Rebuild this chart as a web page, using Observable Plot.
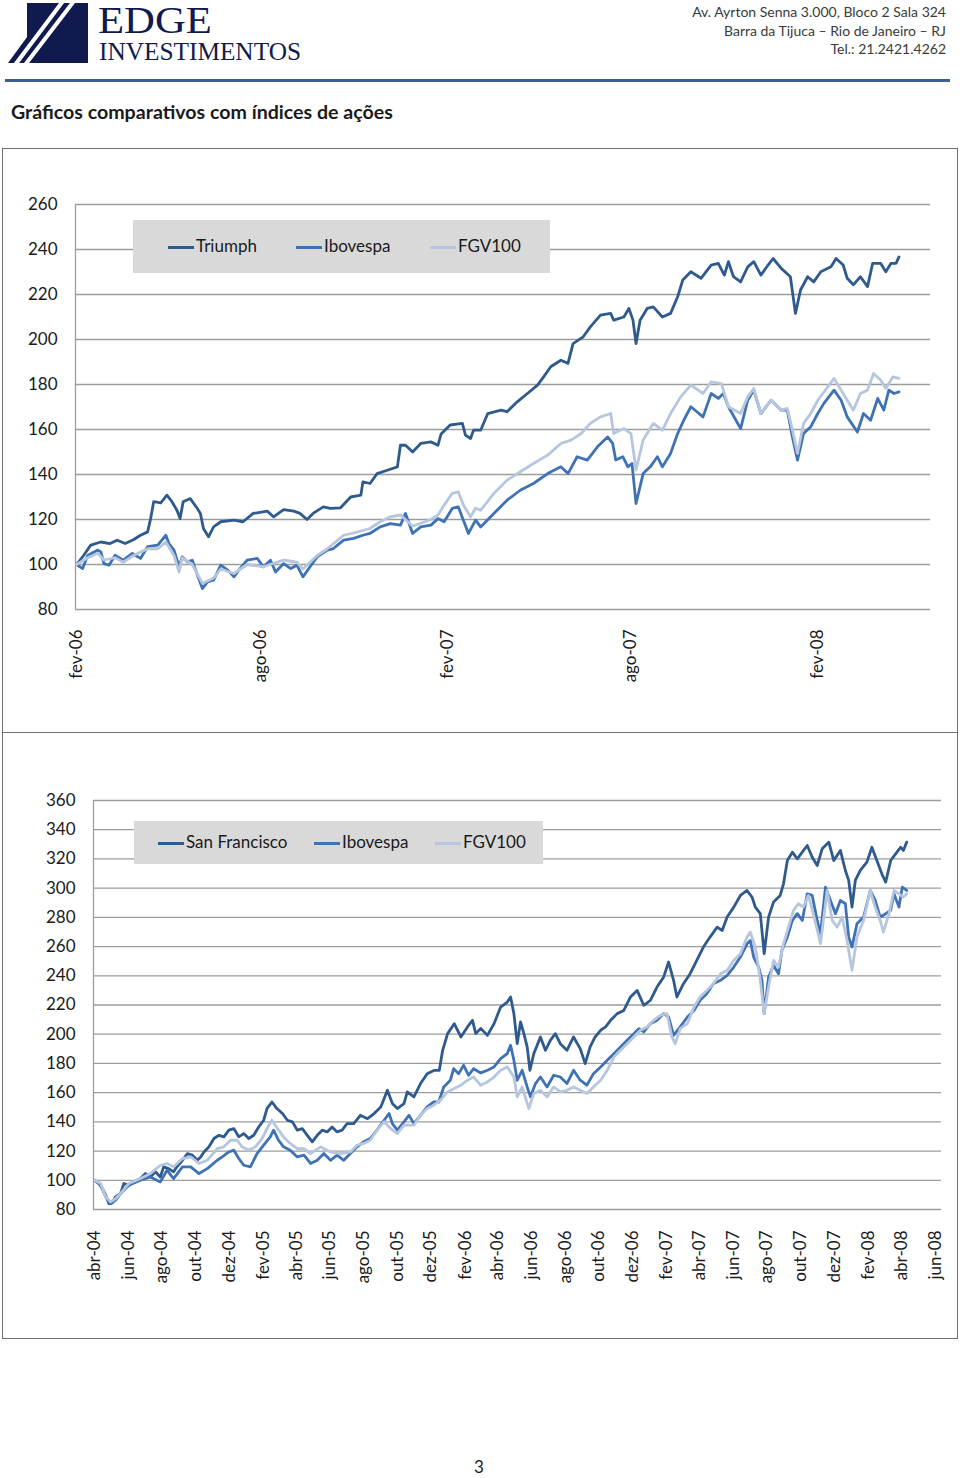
<!DOCTYPE html>
<html>
<head>
<meta charset="utf-8">
<script src="https://cdn.jsdelivr.net/npm/d3@7"></script>
<script src="https://cdn.jsdelivr.net/npm/@observablehq/plot@0.6"></script>
<style>
  body { margin: 0; background: #fff; }
  #page { position: relative; width: 960px; height: 1478px; overflow: hidden; font-family: Lato, "Open Sans", sans-serif; color: #1a1a1a; }
  .abs { position: absolute; }
  .addr { right: 14px; text-align: right; font-family: "Liberation Sans Narrow", Lato, sans-serif; font-size: 14px; color: #3a3a3a; white-space: nowrap; }
  .panel { border: 1px solid #6e6e6e; box-sizing: border-box; }
  .legend { background: #d9d9d9; }
  .item { position: absolute; font-size: 17px; line-height: 20px; white-space: nowrap; color: #1a1a1a; }
  .swatch { position: absolute; height: 3px; width: 26px; }
</style>
</head>
<body>
<div id="page">
  <svg class="abs" style="left:0;top:0" width="320" height="70">
    <rect x="27" y="3" width="61" height="60" fill="#111a4e"/>
    <polygon points="8,63 33,63 83,3 52,3" fill="#111a4e"/>
    <line x1="15" y1="65" x2="63" y2="1" stroke="#fff" stroke-width="4"/>
    <line x1="25" y1="65" x2="74" y2="1" stroke="#fff" stroke-width="4"/>
    <text x="98" y="33" font-family="Liberation Serif, serif" font-size="37" fill="#111a4e" textLength="114" lengthAdjust="spacingAndGlyphs">EDGE</text>
    <text x="99" y="60" font-family="Liberation Serif, serif" font-size="25" fill="#111a4e" textLength="202" lengthAdjust="spacingAndGlyphs">INVESTIMENTOS</text>
  </svg>
  <div class="abs addr" style="top:3px">Av. Ayrton Senna 3.000, Bloco 2 Sala 324</div>
  <div class="abs addr" style="top:22px">Barra da Tijuca – Rio de Janeiro – RJ</div>
  <div class="abs addr" style="top:40px">Tel.: 21.2421.4262</div>
  <div class="abs" style="left:5px;top:79px;width:945px;height:3px;background:#3d5e90"></div>
  <div class="abs" style="left:11px;top:100px;font-size:19.6px;font-weight:700;white-space:nowrap">Gráficos comparativos com índices de ações</div>

  <div class="abs panel" style="left:2px;top:148px;width:956px;height:585px"></div>
  <div class="abs panel" style="left:2px;top:732px;width:956px;height:607px"></div>

  <div id="topChart" class="abs" style="left:0;top:190px"></div>
  <div id="bottomChart" class="abs" style="left:0;top:780px"></div>

  <div id="topLegend" class="abs legend" style="left:133px;top:220px;width:417px;height:53px"></div>
  <div id="bottomLegend" class="abs legend" style="left:134px;top:821px;width:409px;height:43px"></div>

  <div class="abs" style="left:0;width:958px;top:1457px;height:20px;line-height:20px;text-align:center;font-size:17px">3</div>
</div>
<script>
// ---------- DATA ----------
const seriesColors = ["#2e5a8e", "#3f72b4", "#b5c6de"];

const topSeriesNames = ["Triumph", "Ibovespa", "FGV100"];
const topTickDates = ["2006-02-01", "2006-08-01", "2007-02-01", "2007-08-01", "2008-02-01"];
const topTickLabels = ["fev-06", "ago-06", "fev-07", "ago-07", "fev-08"];
const topYTicks = [80, 100, 120, 140, 160, 180, 200, 220, 240, 260];

const topTriumph = [["2006-02-01",100],["2006-02-08",104],["2006-02-15",108.6],["2006-02-25",110],["2006-03-06",109.3],["2006-03-13",110.8],["2006-03-21",109.3],["2006-03-29",111],["2006-04-05",113],["2006-04-12",114.5],["2006-04-15",120.4],["2006-04-18",127.9],["2006-04-25",127.4],["2006-05-01",130.8],["2006-05-06",127.9],["2006-05-11",124],["2006-05-14",120.4],["2006-05-17",127.9],["2006-05-24",129.3],["2006-05-31",124.9],["2006-06-03",122.7],["2006-06-06",116],["2006-06-11",112.3],["2006-06-16",116.7],["2006-06-23",119],["2006-07-06",119.7],["2006-07-15",119],["2006-07-25",122.7],["2006-08-08",123.7],["2006-08-14",121.2],["2006-08-24",124.4],["2006-09-03",123.7],["2006-09-09",122.7],["2006-09-16",120],["2006-09-22",122.7],["2006-10-02",125.6],["2006-10-09",124.9],["2006-10-19",125.2],["2006-10-29",130],["2006-11-08",130.8],["2006-11-10",136.7],["2006-11-17",136],["2006-11-24",140.4],["2006-12-04",141.9],["2006-12-14",143.4],["2006-12-17",153],["2006-12-22",153],["2006-12-29",150],["2007-01-06",153.8],["2007-01-16",154.5],["2007-01-23",153],["2007-01-26",158],["2007-02-04",162],["2007-02-16",162.7],["2007-02-19",157.5],["2007-02-24",156],["2007-02-27",159.7],["2007-03-06",159.7],["2007-03-13",167.1],["2007-03-26",168.6],["2007-04-01",167.9],["2007-04-11",172.3],["2007-04-21",176],["2007-05-01",179.7],["2007-05-07",183.4],["2007-05-14",187.9],["2007-05-24",190.8],["2007-05-31",189.4],["2007-06-05",198.2],["2007-06-15",201.2],["2007-06-22",205.6],["2007-07-02",210.8],["2007-07-12",211.6],["2007-07-15",208.6],["2007-07-25",210],["2007-07-30",213.8],["2007-08-03",208.6],["2007-08-06",198.2],["2007-08-10",208.6],["2007-08-17",213.8],["2007-08-23",214.5],["2007-09-01",210],["2007-09-09",211.6],["2007-09-16",219],["2007-09-21",226.4],["2007-09-29",230.1],["2007-10-09",227.2],["2007-10-19",233.1],["2007-10-26",233.8],["2007-11-01",228.6],["2007-11-05",234.6],["2007-11-10",227.9],["2007-11-17",225.6],["2007-11-24",232.3],["2007-11-30",234.6],["2007-12-07",228.6],["2007-12-14",233.1],["2007-12-19",236],["2007-12-27",231.6],["2008-01-05",227.9],["2008-01-10",211.6],["2008-01-15",222],["2008-01-22",227.9],["2008-01-28",225.6],["2008-02-04",230.1],["2008-02-14",232.3],["2008-02-19",236],["2008-02-26",233.1],["2008-03-01",227.2],["2008-03-07",224.3],["2008-03-14",227.9],["2008-03-21",223.5],["2008-03-26",233.8],["2008-04-03",233.8],["2008-04-08",230.1],["2008-04-13",233.8],["2008-04-18",233.8],["2008-04-21",236.7]];

const topIbovespa = [["2006-02-01",100],["2006-02-07",98.2],["2006-02-12",104],["2006-02-22",106.4],["2006-02-25",105.6],["2006-02-28",100.4],["2006-03-05",99.7],["2006-03-11",104.1],["2006-03-19",101.9],["2006-03-28",104.9],["2006-04-05",102.7],["2006-04-12",107.9],["2006-04-22",108.6],["2006-04-30",113],["2006-05-03",109.3],["2006-05-08",106.4],["2006-05-13",99],["2006-05-16",103.4],["2006-05-21",101.2],["2006-05-26",101.9],["2006-05-31",95.3],["2006-06-05",89.3],["2006-06-10",92.3],["2006-06-16",93],["2006-06-23",99.7],["2006-06-30",97.5],["2006-07-06",94.5],["2006-07-12",98.2],["2006-07-19",101.9],["2006-07-29",102.7],["2006-08-04",99],["2006-08-11",101.9],["2006-08-16",96.7],["2006-08-24",100.4],["2006-08-31",98.2],["2006-09-06",99.7],["2006-09-12",94.5],["2006-09-19",99],["2006-09-26",103.4],["2006-10-06",106.4],["2006-10-12",107.1],["2006-10-22",110.8],["2006-11-01",111.6],["2006-11-10",113],["2006-11-17",113.8],["2006-11-27",116.7],["2006-12-07",118.2],["2006-12-17",117.5],["2006-12-22",122.7],["2006-12-29",113.8],["2007-01-06",116.7],["2007-01-16",117.5],["2007-01-23",120.4],["2007-01-29",119],["2007-02-06",124.9],["2007-02-12",125.6],["2007-02-17",119.7],["2007-02-22",113.8],["2007-03-01",119.7],["2007-03-06",116.7],["2007-03-19",122.7],["2007-04-01",128.6],["2007-04-14",133],["2007-04-27",136],["2007-05-11",140.4],["2007-05-24",143.4],["2007-05-31",140.4],["2007-06-09",147.9],["2007-06-19",146.4],["2007-06-29",152.3],["2007-07-09",156.7],["2007-07-14",153.8],["2007-07-17",146.4],["2007-07-24",147.9],["2007-07-29",143.4],["2007-08-02",144.9],["2007-08-06",127.1],["2007-08-13",140.4],["2007-08-20",143.4],["2007-08-27",147.9],["2007-09-01",143.4],["2007-09-09",149.3],["2007-09-16",158.2],["2007-09-22",164.1],["2007-09-29",170.1],["2007-10-11",165.6],["2007-10-19",176],["2007-10-26",173.8],["2007-10-31",176],["2007-11-05",170.1],["2007-11-17",160.4],["2007-11-24",173],["2007-11-30",177.5],["2007-12-07",167.1],["2007-12-17",173],["2007-12-27",168.6],["2008-01-02",168.6],["2008-01-07",156.7],["2008-01-12",146.4],["2008-01-18",158.2],["2008-01-25",161.2],["2008-02-01",167.1],["2008-02-07",171.6],["2008-02-17",177.5],["2008-02-24",173],["2008-03-01",165.6],["2008-03-11",158.9],["2008-03-17",167.1],["2008-03-24",164.1],["2008-03-31",173.8],["2008-04-06",168.6],["2008-04-11",177.5],["2008-04-16",176],["2008-04-21",176.7]];

const topFGV100 = [["2006-02-01",100],["2006-02-12",103],["2006-02-22",105],["2006-02-28",102],["2006-03-11",103],["2006-03-19",101],["2006-03-29",104],["2006-04-12",107],["2006-04-22",107],["2006-04-30",110],["2006-05-08",104],["2006-05-13",96.7],["2006-05-16",103],["2006-05-26",100],["2006-06-05",91.6],["2006-06-16",94],["2006-06-23",98],["2006-07-06",96],["2006-07-19",100],["2006-08-04",99],["2006-08-24",102],["2006-09-06",101],["2006-09-12",98],["2006-09-26",104],["2006-10-06",107],["2006-10-22",113],["2006-11-01",114],["2006-11-17",116],["2006-11-27",119],["2006-12-07",121.2],["2006-12-17",122],["2006-12-29",117],["2007-01-16",120],["2007-01-23",122],["2007-01-29",126.4],["2007-02-06",131.6],["2007-02-12",132.3],["2007-02-17",126.4],["2007-02-24",121.2],["2007-03-01",125],["2007-03-06",124.1],["2007-03-19",131.6],["2007-04-01",137.5],["2007-04-14",141.2],["2007-04-27",144.9],["2007-05-11",148.6],["2007-05-24",153.8],["2007-06-03",155.3],["2007-06-13",158.2],["2007-06-22",162.7],["2007-07-02",165.6],["2007-07-12",167.1],["2007-07-15",158.2],["2007-07-25",160.4],["2007-08-01",158.2],["2007-08-06",142],["2007-08-13",155.3],["2007-08-23",162.7],["2007-09-01",159.7],["2007-09-09",167.1],["2007-09-19",174.5],["2007-09-29",179.7],["2007-10-11",176],["2007-10-19",181.2],["2007-10-29",180.4],["2007-11-05",170.1],["2007-11-17",167.1],["2007-11-24",174.5],["2007-11-30",178.2],["2007-12-07",167.1],["2007-12-17",173],["2007-12-27",168.6],["2008-01-02",169.4],["2008-01-07",159.7],["2008-01-12",149.3],["2008-01-18",162.7],["2008-01-25",167.1],["2008-02-01",173],["2008-02-11",179],["2008-02-17",182.7],["2008-02-24",177.5],["2008-03-01",173],["2008-03-07",168.6],["2008-03-14",176],["2008-03-21",177.5],["2008-03-27",184.9],["2008-04-03",181.9],["2008-04-08",178.2],["2008-04-15",183.4],["2008-04-21",182.7]];

const bottomSeriesNames = ["San Francisco", "Ibovespa", "FGV100"];
const bottomTickDates = ["2004-04-01","2004-06-01","2004-08-01","2004-10-01","2004-12-01","2005-02-01","2005-04-01","2005-06-01","2005-08-01","2005-10-01","2005-12-01","2006-02-01","2006-04-01","2006-06-01","2006-08-01","2006-10-01","2006-12-01","2007-02-01","2007-04-01","2007-06-01","2007-08-01","2007-10-01","2007-12-01","2008-02-01","2008-04-01","2008-06-01"];
const bottomTickLabels = ["abr-04","jun-04","ago-04","out-04","dez-04","fev-05","abr-05","jun-05","ago-05","out-05","dez-05","fev-06","abr-06","jun-06","ago-06","out-06","dez-06","fev-07","abr-07","jun-07","ago-07","out-07","dez-07","fev-08","abr-08","jun-08"];
const bottomYTicks = [80, 100, 120, 140, 160, 180, 200, 220, 240, 260, 280, 300, 320, 340, 360];

const bottomSanFrancisco = [["2004-04-01",100],["2004-04-09",97.8],["2004-04-15",94.4],["2004-04-21",89.8],["2004-04-27",84],["2004-05-03",84.6],["2004-05-09",88.7],["2004-05-18",91],["2004-05-24",97.8],["2004-06-02",96.6],["2004-06-11",98.9],["2004-06-23",101.2],["2004-07-02",104.6],["2004-07-11",102.3],["2004-07-20",105.8],["2004-07-29",102.3],["2004-08-04",109.2],["2004-08-13",108],["2004-08-22",105.8],["2004-08-28",109.2],["2004-09-07",113.7],["2004-09-16",118.3],["2004-09-25",117.2],["2004-10-04",113.7],["2004-10-10",116],["2004-10-16",119.4],["2004-10-25",122.9],["2004-11-03",128.6],["2004-11-12",130.8],["2004-11-21",129.7],["2004-11-30",134.3],["2004-12-09",135.4],["2004-12-18",129.7],["2004-12-27",132],["2005-01-05",128.6],["2005-01-14",130.8],["2005-01-23",136.5],["2005-02-01",141.1],["2005-02-07",149.1],["2005-02-16",153.6],["2005-02-25",149.1],["2005-03-07",145.7],["2005-03-16",141.1],["2005-03-25",140],["2005-04-03",134.3],["2005-04-12",135.4],["2005-04-21",130.8],["2005-04-30",126.3],["2005-05-09",130.8],["2005-05-18",134.3],["2005-05-27",133.1],["2005-06-05",136.5],["2005-06-14",133.1],["2005-06-23",134.3],["2005-07-02",138.8],["2005-07-14",138.8],["2005-07-26",144.5],["2005-08-08",142.2],["2005-08-20",145.7],["2005-09-01",150.2],["2005-09-13",161.6],["2005-09-22",152.5],["2005-10-01",149.1],["2005-10-13",152.5],["2005-10-19",160.5],["2005-10-31",157.1],["2005-11-12",166.2],["2005-11-24",173],["2005-12-07",175.3],["2005-12-16",175.3],["2005-12-22",189],["2005-12-31",200.4],["2006-01-12",207.2],["2006-01-24",198.1],["2006-02-05",205],["2006-02-14",209.5],["2006-02-20",200.4],["2006-03-01",204],["2006-03-13",199.2],["2006-03-25",207.2],["2006-04-06",218.6],["2006-04-18",222],["2006-04-24",225.5],["2006-04-30",214],["2006-05-06",193.5],["2006-05-12",208.4],["2006-05-18",200.4],["2006-05-24",191.3],["2006-05-29",175.3],["2006-06-05",186.7],["2006-06-17",198.1],["2006-06-26",189],["2006-07-05",195.8],["2006-07-14",200.4],["2006-07-23",193.5],["2006-08-04",189],["2006-08-16",198.1],["2006-08-28",190.1],["2006-09-06",179.9],["2006-09-15",191.3],["2006-09-24",198.1],["2006-10-04",202.7],["2006-10-13",205],["2006-10-22",209.5],["2006-11-03",214.1],["2006-11-15",216.3],["2006-11-27",225.5],["2006-12-09",230],["2006-12-21",219.8],["2007-01-02",223.2],["2007-01-14",232.3],["2007-01-26",239.1],["2007-02-04",249.4],["2007-02-13",236.9],["2007-02-19",225.5],["2007-03-03",234.6],["2007-03-15",241.4],["2007-03-27",250.5],["2007-04-08",259.7],["2007-04-20",266.5],["2007-05-03",273.3],["2007-05-12",271],["2007-05-21",280.2],["2007-06-02",287],["2007-06-14",295],["2007-06-26",298.4],["2007-07-05",293.9],["2007-07-11",287],["2007-07-20",282.5],["2007-07-27",255.1],["2007-08-04",280.2],["2007-08-13",290.5],["2007-08-25",295],["2007-08-31",303],["2007-09-07",318.9],["2007-09-16",324.6],["2007-09-25",320.1],["2007-10-04",324.6],["2007-10-13",329.2],["2007-10-22",321.2],["2007-10-31",315.5],["2007-11-09",326.9],["2007-11-21",331.5],["2007-11-30",318.9],["2007-12-12",325.8],["2007-12-21",312.1],["2007-12-27",305.3],["2008-01-02",287],["2008-01-08",305.3],["2008-01-17",312.1],["2008-01-29",317.8],["2008-02-07",328],["2008-02-16",318.9],["2008-02-25",309.8],["2008-03-03",304.1],["2008-03-12",318.9],["2008-03-21",323.5],["2008-03-30",328],["2008-04-04",325.8],["2008-04-10",331.5]];

const bottomIbovespa = [["2004-04-01",100],["2004-04-12",96.6],["2004-04-21",88.7],["2004-04-30",84.1],["2004-05-09",86.4],["2004-05-18",91],["2004-06-02",96.6],["2004-06-23",100],["2004-07-11",102.3],["2004-07-29",98.9],["2004-08-10",106.9],["2004-08-22",101.2],["2004-09-07",109.2],["2004-09-22",109.2],["2004-10-07",104.6],["2004-10-22",108],["2004-11-09",113.7],["2004-11-18",116],["2004-11-30",119.4],["2004-12-09",120.6],["2004-12-18",114.9],["2004-12-27",110.3],["2005-01-08",109.2],["2005-01-20",118.3],["2005-02-01",124],["2005-02-13",129.7],["2005-02-19",134.3],["2005-02-28",127.4],["2005-03-09",122.9],["2005-03-21",120.6],["2005-04-03",116],["2005-04-15",117.2],["2005-04-27",111.5],["2005-05-09",113.7],["2005-05-21",118.3],["2005-06-02",113.7],["2005-06-14",117.2],["2005-06-26",113.7],["2005-07-08",118.3],["2005-07-20",122.9],["2005-08-01",126.3],["2005-08-13",128.6],["2005-08-25",134.3],["2005-09-07",141.1],["2005-09-16",145.7],["2005-09-22",138.8],["2005-10-01",134.3],["2005-10-13",140],["2005-10-22",144.5],["2005-10-31",138.8],["2005-11-12",144.5],["2005-11-24",150.2],["2005-12-06",153.6],["2005-12-15",153.6],["2005-12-24",163.9],["2006-01-05",168.5],["2006-01-11",176.4],["2006-01-20",173],["2006-01-29",178.7],["2006-02-07",171.9],["2006-02-16",176.4],["2006-03-01",173.5],["2006-03-13",175.3],["2006-03-25",177.6],["2006-04-06",183.3],["2006-04-18",186.7],["2006-04-24",192.4],["2006-04-30",182.1],["2006-05-06",168.5],["2006-05-15",175.3],["2006-05-24",163.9],["2006-05-30",157.1],["2006-06-08",166.2],["2006-06-17",170.7],["2006-06-29",163.9],["2006-07-11",171.9],["2006-07-23",170.7],["2006-08-04",166.2],["2006-08-16",175.3],["2006-08-28",168.5],["2006-09-09",165.1],["2006-09-21",173],["2006-10-04",177.6],["2006-10-16",182.1],["2006-10-28",186.7],["2006-11-09",191.3],["2006-11-21",195.8],["2006-12-03",200.4],["2006-12-12",203.8],["2006-12-21",201.6],["2007-01-02",207.2],["2007-01-14",209.5],["2007-01-26",214.1],["2007-02-04",211.8],["2007-02-13",199.2],["2007-02-25",205],["2007-03-10",211.8],["2007-03-22",216.3],["2007-04-02",223.2],["2007-04-14",227.7],["2007-04-26",234.6],["2007-05-09",236.9],["2007-05-21",240.3],["2007-06-02",246],["2007-06-14",252.8],["2007-06-26",261.9],["2007-07-02",264.2],["2007-07-08",252.8],["2007-07-17",246],["2007-07-23",236.9],["2007-07-27",214.1],["2007-08-04",239.1],["2007-08-13",247.1],["2007-08-22",241.4],["2007-08-28",257.4],["2007-09-07",266.5],["2007-09-16",277.9],["2007-09-25",282.5],["2007-10-04",277.9],["2007-10-13",296.1],["2007-10-22",295],["2007-10-31",277.9],["2007-11-06",268.8],["2007-11-15",300.7],["2007-11-24",291.6],["2007-12-03",282.5],["2007-12-12",291.6],["2007-12-21",289.3],["2007-12-27",266.5],["2008-01-02",259.7],["2008-01-11",275.6],["2008-01-23",280.2],["2008-02-04",298.4],["2008-02-13",291.6],["2008-02-22",280.2],["2008-03-03",282.5],["2008-03-12",284.8],["2008-03-18",296.1],["2008-03-27",287],["2008-04-02",300.7],["2008-04-10",298.4]];

const bottomFGV100 = [["2004-04-01",100],["2004-04-12",97.8],["2004-04-21",88.7],["2004-04-30",85.2],["2004-05-09",87.5],["2004-05-18",91],["2004-06-02",97.8],["2004-06-23",101.2],["2004-07-11",104.6],["2004-07-29",110.3],["2004-08-10",111.5],["2004-08-22",109.2],["2004-09-07",114.9],["2004-09-22",116],["2004-10-07",111.5],["2004-10-22",113.7],["2004-11-09",121.7],["2004-11-21",122.9],["2004-12-03",127.4],["2004-12-15",127.4],["2004-12-24",122.9],["2005-01-05",120.6],["2005-01-17",122.9],["2005-01-29",128.6],["2005-02-07",135.4],["2005-02-16",141.1],["2005-02-28",134.3],["2005-03-09",129.7],["2005-03-21",125.2],["2005-04-03",121.7],["2005-04-15",121.7],["2005-04-27",118.3],["2005-05-15",122.9],["2005-06-02",119.4],["2005-06-20",118.3],["2005-07-08",119.4],["2005-07-20",124],["2005-08-01",125.2],["2005-08-13",127.4],["2005-08-25",134.3],["2005-09-07",140],["2005-09-19",135.4],["2005-10-01",132],["2005-10-13",137.7],["2005-10-31",137.7],["2005-11-12",144.5],["2005-11-24",149.1],["2005-12-06",151.4],["2005-12-18",154.8],["2005-12-31",160.5],["2006-01-12",162.8],["2006-01-24",165.1],["2006-02-05",168.5],["2006-02-16",170.7],["2006-03-01",165],["2006-03-13",167.3],["2006-03-25",170.7],["2006-04-06",175.3],["2006-04-18",177.6],["2006-04-30",170.7],["2006-05-06",157.1],["2006-05-15",163.9],["2006-05-27",149.1],["2006-06-05",159.4],["2006-06-17",161.6],["2006-06-29",157.1],["2006-07-11",163.9],["2006-07-23",160.5],["2006-08-04",161.6],["2006-08-16",163.9],["2006-08-28",161.6],["2006-09-09",159.4],["2006-09-21",163.9],["2006-10-04",168.5],["2006-10-16",175.3],["2006-10-28",184.4],["2006-11-09",189],["2006-11-21",193.5],["2006-12-03",198.1],["2006-12-15",202.7],["2006-12-27",205],["2007-01-08",209.5],["2007-01-20",212.9],["2007-02-01",214.1],["2007-02-10",198.1],["2007-02-16",193.5],["2007-02-25",203.8],["2007-03-10",207.2],["2007-03-22",218.6],["2007-04-02",225.5],["2007-04-14",230],["2007-04-26",234.6],["2007-05-09",241.4],["2007-05-21",243.7],["2007-06-02",250.5],["2007-06-14",255.1],["2007-06-26",266.5],["2007-07-02",269.9],["2007-07-11",259.7],["2007-07-20",236.9],["2007-07-27",214.1],["2007-08-04",232.3],["2007-08-13",250.5],["2007-08-22",246],["2007-08-31",261.9],["2007-09-09",273.3],["2007-09-18",284.8],["2007-09-27",289.3],["2007-10-06",287],["2007-10-15",295],["2007-10-24",282.5],["2007-11-06",261.9],["2007-11-18",298.4],["2007-11-27",277.9],["2007-12-06",273.3],["2007-12-15",280.2],["2007-12-24",264.2],["2008-01-02",243.7],["2008-01-11",266.5],["2008-01-23",277.9],["2008-02-04",298.4],["2008-02-13",287],["2008-02-22",277.9],["2008-02-28",269.9],["2008-03-09",282.5],["2008-03-18",298.4],["2008-03-27",296.1],["2008-04-04",293.9],["2008-04-10",296.1]];

// ---------- DRAWING ----------
const parse = d3.utcParse("%Y-%m-%d");
const toRows = (pairs, name) => pairs.map(([d, v]) => ({date: parse(d), value: v, series: name}));

function chart({series, names, tickDates, tickLabels, yTicks, xDomain, yDomain, height, margins, xPad}) {
  const labelMap = new Map(tickDates.map((d, i) => [+parse(d), tickLabels[i]]));
  const data = series.flatMap((s, i) => toRows(s, names[i]));
  return Plot.plot({
    width: 960,
    height,
    ...margins,
    style: {fontFamily: "Lato, 'Open Sans', sans-serif", fontSize: "17px", color: "#1a1a1a", background: "transparent", overflow: "visible"},
    x: {type: "utc", domain: xDomain.map(parse), ticks: tickDates.map(parse), tickFormat: d => labelMap.get(+d), tickRotate: -90, tickSize: 0, tickPadding: xPad, label: null},
    y: {domain: yDomain, ticks: yTicks, tickSize: 0, tickPadding: 18, label: null},
    color: {domain: names, range: seriesColors},
    marks: [
      Plot.ruleY(yTicks, {stroke: "#9d9d9d", strokeWidth: 1.3}),
      Plot.ruleX([parse(xDomain[0])], {stroke: "#9d9d9d", strokeWidth: 1.3}),
      Plot.lineY(data, {x: "date", y: "value", z: "series", stroke: "series", strokeWidth: 2.8, strokeLinejoin: "round"})
    ]
  });
}

document.getElementById("topChart").append(chart({
  series: [topTriumph, topIbovespa, topFGV100],
  names: topSeriesNames,
  tickDates: topTickDates, tickLabels: topTickLabels, yTicks: topYTicks,
  xDomain: ["2006-01-31", "2008-05-22"], yDomain: [80, 260],
  height: 510, xPad: 20,
  margins: {marginTop: 14, marginBottom: 91, marginLeft: 75, marginRight: 30}
}));

document.getElementById("bottomChart").append(chart({
  series: [bottomSanFrancisco, bottomIbovespa, bottomFGV100],
  names: bottomSeriesNames,
  tickDates: bottomTickDates, tickLabels: bottomTickLabels, yTicks: bottomYTicks,
  xDomain: ["2004-03-30", "2008-06-12"], yDomain: [80, 360],
  height: 520, xPad: 21,
  margins: {marginTop: 20, marginBottom: 91, marginLeft: 93, marginRight: 19}
}));

function legend(el, names, positions) {
  names.forEach((n, i) => {
    const sw = document.createElement("div");
    sw.className = "swatch";
    sw.style.left = positions[i] + "px";
    sw.style.top = (el.offsetHeight / 2 - 1) + "px";
    sw.style.background = seriesColors[i];
    el.append(sw);
    const t = document.createElement("div");
    t.className = "item";
    t.textContent = n;
    t.style.left = (positions[i] + 28) + "px";
    t.style.top = (el.offsetHeight / 2 - 11) + "px";
    el.append(t);
  });
}
legend(document.getElementById("topLegend"), topSeriesNames, [35, 163, 297]);
legend(document.getElementById("bottomLegend"), bottomSeriesNames, [24, 180, 301]);
</script>
</body>
</html>
